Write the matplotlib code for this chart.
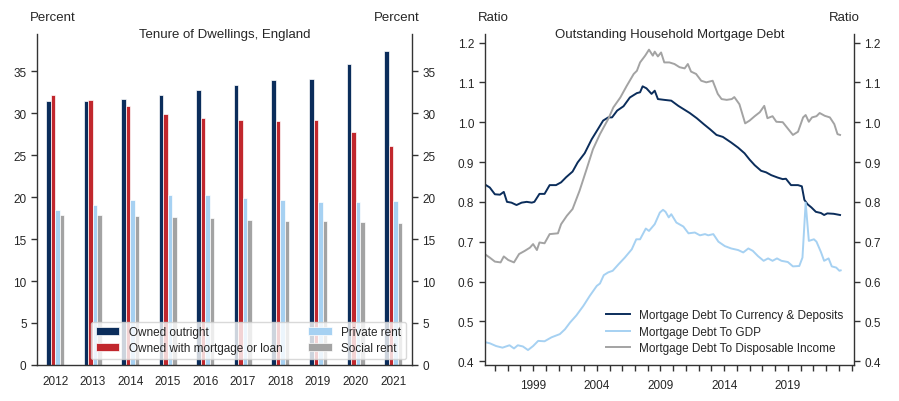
import numpy as np
import matplotlib
matplotlib.use("Agg")
import matplotlib.pyplot as plt
from matplotlib.ticker import MultipleLocator, FormatStrFormatter

plt.rcParams['font.family'] = ['Liberation Sans', 'DejaVu Sans']
plt.rcParams['font.size'] = 9
txt_col = '#262626'

# ---- Tenure of dwellings (percent) ----
years = ['2012', '2013', '2014', '2015', '2016', '2017', '2018', '2019', '2020', '2021']
owned_outright = [31.4, 31.4, 31.7, 32.2, 32.7, 33.4, 33.9, 34.1, 35.8, 37.4]
owned_mortgage = [32.1, 31.5, 30.8, 29.9, 29.4, 29.2, 29.1, 29.2, 27.7, 26.1]
private_rent = [18.4, 19.1, 19.6, 20.2, 20.2, 19.9, 19.6, 19.4, 19.4, 19.5]
social_rent = [17.9, 17.9, 17.7, 17.6, 17.5, 17.3, 17.2, 17.1, 17.0, 16.9]

tenure_names = ['Owned outright', 'Owned with mortgage or loan', 'Private rent', 'Social rent']
tenure_cols = ['#0b2d5b', '#c1272d', '#a6d1f2', '#a3a3a3']

# ---- Household mortgage debt ratios ----
cd_x = [1995.2, 1995.6, 1996.0, 1996.4, 1996.7, 1996.95, 1997.3, 1997.7, 1998.1, 1998.5,
        1998.9, 1999.1, 1999.5, 1999.9, 2000.3, 2000.8, 2001.2, 2001.6, 2002.1, 2002.5,
        2003.05, 2003.6, 2004.1, 2004.5, 2004.9, 2005.2, 2005.6, 2006.1, 2006.6, 2007.15,
        2007.4, 2007.6, 2007.9, 2008.3, 2008.55, 2008.8, 2009.3, 2009.85, 2010.4, 2010.8,
        2011.3, 2011.85, 2012.4, 2012.9, 2013.4, 2013.9, 2014.55, 2015.1, 2015.6, 2016.0,
        2016.4, 2016.9, 2017.3, 2017.7, 2018.2, 2018.6, 2018.85, 2019.25, 2019.8, 2020.1,
        2020.3, 2020.55, 2020.85, 2021.2, 2021.6, 2021.85, 2022.1, 2022.6, 2023.1]
cd_val = [0.844, 0.836, 0.819, 0.818, 0.825, 0.800, 0.798, 0.792, 0.798, 0.800,
          0.798, 0.800, 0.820, 0.820, 0.842, 0.842, 0.849, 0.862, 0.876, 0.899,
          0.922, 0.957, 0.983, 1.004, 1.012, 1.012, 1.029, 1.040, 1.062, 1.073,
          1.075, 1.090, 1.085, 1.071, 1.079, 1.058, 1.056, 1.054, 1.041, 1.033,
          1.023, 1.010, 0.995, 0.982, 0.968, 0.963, 0.949, 0.936, 0.922, 0.906,
          0.892, 0.878, 0.874, 0.867, 0.861, 0.857, 0.858, 0.842, 0.842, 0.839,
          0.805, 0.794, 0.786, 0.775, 0.772, 0.767, 0.771, 0.770, 0.767]

gdp_x = [1995.2, 1995.6, 1996.1, 1996.6, 1997.15, 1997.5, 1997.8, 1998.2, 1998.6, 1999.0,
         1999.4, 1999.9, 2000.45, 2001.1, 2001.5, 2001.9, 2002.4, 2002.95, 2003.45, 2004.0,
         2004.25, 2004.55, 2004.9, 2005.25, 2005.7, 2006.2, 2006.75, 2007.1, 2007.4, 2007.85,
         2008.1, 2008.55, 2008.95, 2009.2, 2009.4, 2009.65, 2009.85, 2010.25, 2010.8, 2011.2,
         2011.7, 2012.1, 2012.5, 2012.75, 2013.15, 2013.55, 2014.05, 2014.55, 2015.1, 2015.5,
         2015.9, 2016.25, 2016.65, 2017.1, 2017.45, 2017.8, 2018.15, 2018.5, 2019.0, 2019.4,
         2019.9, 2020.15, 2020.4, 2020.65, 2021.05, 2021.25, 2021.6, 2021.85, 2022.2, 2022.45,
         2022.8, 2023.05, 2023.15]
gdp_val = [0.448, 0.445, 0.438, 0.434, 0.440, 0.432, 0.440, 0.437, 0.428, 0.438,
           0.451, 0.450, 0.460, 0.468, 0.480, 0.497, 0.515, 0.539, 0.564, 0.589,
           0.595, 0.616, 0.623, 0.627, 0.643, 0.660, 0.681, 0.706, 0.706, 0.733,
           0.727, 0.744, 0.773, 0.780, 0.775, 0.761, 0.769, 0.748, 0.738, 0.721,
           0.723, 0.716, 0.719, 0.716, 0.719, 0.700, 0.689, 0.683, 0.679, 0.673,
           0.683, 0.677, 0.664, 0.652, 0.658, 0.652, 0.658, 0.652, 0.649, 0.638,
           0.639, 0.660, 0.798, 0.702, 0.706, 0.700, 0.674, 0.652, 0.658, 0.638,
           0.635, 0.627, 0.628]

di_x = [1995.2, 1995.6, 1996.0, 1996.45, 1996.7, 1997.05, 1997.5, 1997.9, 1998.35, 1998.75,
        1999.0, 1999.3, 1999.5, 1999.9, 2000.3, 2000.95, 2001.2, 2001.65, 2002.1, 2002.65,
        2003.2, 2003.7, 2004.25, 2004.9, 2005.3, 2005.85, 2006.35, 2006.9, 2007.15, 2007.4,
        2007.8, 2008.1, 2008.4, 2008.55, 2008.8, 2009.05, 2009.3, 2009.7, 2010.1, 2010.5,
        2010.9, 2011.15, 2011.4, 2011.8, 2012.2, 2012.6, 2013.1, 2013.5, 2013.8, 2014.2,
        2014.6, 2014.8, 2015.2, 2015.65, 2016.0, 2016.4, 2016.8, 2017.15, 2017.4, 2017.8,
        2018.1, 2018.6, 2019.0, 2019.4, 2019.8, 2020.2, 2020.4, 2020.65, 2020.9, 2021.25,
        2021.5, 2021.9, 2022.3, 2022.65, 2022.9, 2023.1]
di_val = [0.669, 0.660, 0.650, 0.648, 0.663, 0.654, 0.648, 0.669, 0.677, 0.685,
          0.694, 0.679, 0.698, 0.696, 0.719, 0.721, 0.744, 0.765, 0.782, 0.828,
          0.882, 0.932, 0.970, 1.008, 1.037, 1.062, 1.091, 1.121, 1.129, 1.150,
          1.167, 1.182, 1.167, 1.177, 1.165, 1.175, 1.150, 1.150, 1.146, 1.138,
          1.135, 1.146, 1.127, 1.121, 1.104, 1.100, 1.104, 1.071, 1.058, 1.056,
          1.058, 1.063, 1.045, 0.997, 1.004, 1.015, 1.025, 1.041, 1.010, 1.015,
          1.001, 1.000, 0.984, 0.968, 0.976, 1.012, 1.018, 1.001, 1.012, 1.015,
          1.023, 1.016, 1.012, 0.995, 0.970, 0.968]

fig = plt.figure(figsize=(8.99, 4.02), dpi=100)
ax1 = fig.add_axes([0.0412, 0.0896, 0.417, 0.823])
ax2 = fig.add_axes([0.539, 0.0896, 0.411, 0.823])


def style_axes(ax):
    ax.spines['top'].set_visible(False)
    for s in ['left', 'right', 'bottom']:
        ax.spines[s].set_color('#333333')
        ax.spines[s].set_linewidth(1.0)
    ax.tick_params(axis='y', which='both', left=True, right=True, labelleft=True,
                   labelright=True, direction='out', length=4, width=1.0,
                   colors='#333333', labelcolor=txt_col, labelsize=8.5)
    ax.tick_params(axis='x', which='both', direction='out', length=4, width=1.0,
                   colors='#333333', labelcolor=txt_col, labelsize=8.5)


# left panel: grouped bars
x = np.arange(len(years))
bw = 0.12
offsets = [-1.5 * bw, -0.5 * bw, 0.5 * bw, 1.5 * bw]
series = [owned_outright, owned_mortgage, private_rent, social_rent]
for vals, off, col, name in zip(series, offsets, tenure_cols, tenure_names):
    ax1.bar(x + off, vals, width=bw, color=col, edgecolor='white', linewidth=0.5, label=name)

style_axes(ax1)
ax1.set_xlim(-0.48, 9.5)
ax1.set_ylim(0, 39.4)
ax1.yaxis.set_major_locator(MultipleLocator(5))
ax1.set_xticks(x)
ax1.set_xticklabels(years)
ax1.tick_params(axis='x', length=0, pad=7)
ax1.text(0.5, 1.0, 'Tenure of Dwellings, England', transform=ax1.transAxes,
         ha='center', va='center', fontsize=9.5, color=txt_col)
ax1.text(-0.019, 1.051, 'Percent', transform=ax1.transAxes, ha='left', va='center',
         fontsize=9.5, color=txt_col)
ax1.text(1.021, 1.051, 'Percent', transform=ax1.transAxes, ha='right', va='center',
         fontsize=9.5, color=txt_col)
leg1 = ax1.legend(loc='lower right', ncol=2, fontsize=8.5, frameon=True, framealpha=0.8,
                  edgecolor='#d0d0d0', borderaxespad=0.5, handlelength=2.0,
                  columnspacing=2.2, labelspacing=0.35)
for t in leg1.get_texts():
    t.set_color(txt_col)

# right panel: lines
ax2.plot(cd_x, cd_val, color='#0b2d5b', lw=1.4, label='Mortgage Debt To Currency & Deposits')
ax2.plot(gdp_x, gdp_val, color='#a6d1f2', lw=1.4, label='Mortgage Debt To GDP')
ax2.plot(di_x, di_val, color='#a3a3a3', lw=1.4, label='Mortgage Debt To Disposable Income')

style_axes(ax2)
ax2.set_xlim(1995.19, 2024.2)
ax2.set_ylim(0.3905, 1.221)
ax2.yaxis.set_major_locator(MultipleLocator(0.1))
ax2.yaxis.set_major_formatter(FormatStrFormatter('%.1f'))
ax2.set_xticks([1999, 2004, 2009, 2014, 2019])
ax2.set_xticklabels(['1999', '2004', '2009', '2014', '2019'])
ax2.xaxis.set_minor_locator(MultipleLocator(1))
ax2.tick_params(axis='x', which='both', pad=6)
ax2.text(0.5, 1.0, 'Outstanding Household Mortgage Debt', transform=ax2.transAxes,
         ha='center', va='center', fontsize=9.5, color=txt_col)
ax2.text(-0.018, 1.051, 'Ratio', transform=ax2.transAxes, ha='left', va='center',
         fontsize=9.5, color=txt_col)
ax2.text(1.016, 1.051, 'Ratio', transform=ax2.transAxes, ha='right', va='center',
         fontsize=9.5, color=txt_col)
leg2 = ax2.legend(loc='lower right', frameon=False, fontsize=8.5, handlelength=2.0,
                  labelspacing=0.4, borderaxespad=0.5)
for t in leg2.get_texts():
    t.set_color(txt_col)

fig.savefig('out.png', dpi=100)
